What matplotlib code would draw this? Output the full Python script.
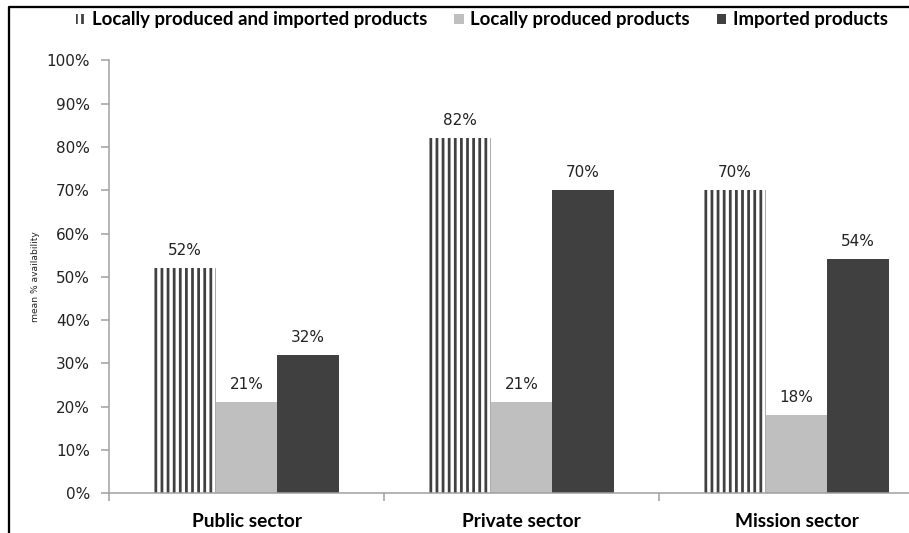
import numpy as np
import matplotlib
matplotlib.use("Agg")
import matplotlib.pyplot as plt
from matplotlib.lines import Line2D
from matplotlib.font_manager import FontProperties
from matplotlib.ticker import FixedLocator

# mean % availability by sector
sectors = ["Public sector", "Private sector", "Mission sector"]
series_names = ["Locally produced and imported products",
                "Locally produced products",
                "Imported products"]
both_vals = [52, 82, 70]
local_vals = [21, 21, 18]
imported_vals = [32, 70, 54]
yticks = [0, 10, 20, 30, 40, 50, 60, 70, 80, 90, 100]

DPI = 110
W, H = 909, 533
plt.rcParams["hatch.linewidth"] = 1.8
plt.rcParams["font.family"] = ["DejaVu Sans"]

dark = "#404040"
light = "#bfbfbf"
axis_grey = "#a0a0a0"
legend_font = FontProperties(family="Lato", weight="bold", size=12.2)
cat_font = FontProperties(family="Lato", weight="bold", size=12.5)

fig = plt.figure(figsize=(W / DPI, H / DPI), dpi=DPI)
# plot area runs past the right edge of the canvas
ax = fig.add_axes([109 / W, (H - 493.3) / H, 825 / W, 433 / H])

x = np.arange(len(sectors))
w = 0.224
b1 = ax.bar(x - w, both_vals, w, color="white", edgecolor=dark, hatch="|||", linewidth=0)
b2 = ax.bar(x, local_vals, w, color=light, linewidth=0)
b3 = ax.bar(x + w, imported_vals, w, color=dark, linewidth=0)

for bars, vals in [(b1, both_vals), (b2, local_vals), (b3, imported_vals)]:
    for b, v in zip(bars, vals):
        ax.annotate(f"{v}%", (b.get_x() + b.get_width() / 2, v),
                    xytext=(0, 8.5), textcoords="offset points",
                    ha="center", va="baseline", fontsize=10, color="#222222")

ax.set_xlim(-0.5, len(sectors) - 0.5)
ax.set_ylim(0, 100)
ax.set_yticks(yticks)
ax.set_yticklabels([f"{t}%" for t in yticks])
ax.set_xticks(x)
ax.set_xticklabels(sectors, fontproperties=cat_font)
ax.xaxis.set_minor_locator(FixedLocator(np.arange(len(sectors) + 1) - 0.5))

for side in ["top", "right"]:
    ax.spines[side].set_visible(False)
for side in ["left", "bottom"]:
    ax.spines[side].set_color(axis_grey)
    ax.spines[side].set_linewidth(1)

ax.tick_params(axis="y", direction="out", length=5.2, width=1, color=axis_grey,
               pad=7.2, labelsize=10, labelcolor="#222222")
ax.tick_params(axis="x", which="major", length=0, pad=13)
ax.tick_params(axis="x", which="minor", direction="out", length=5, width=1, color=axis_grey)

fig.text(36 / W, (H - 277) / H, "mean % availability", rotation=90,
         ha="center", va="center", fontsize=6, color="#222222")

fig.legend([b1, b2, b3], series_names, ncol=3, loc="center",
           bbox_to_anchor=(482 / W, 1 - 20 / H), frameon=False, prop=legend_font,
           handlelength=0.5, handleheight=0.5, handletextpad=0.35,
           columnspacing=1.45, borderpad=0)

# outer frame (left and top edges)
fig.add_artist(Line2D([8.5 / W, 8.5 / W, 1.0], [0.0, 1 - 7 / H, 1 - 7 / H],
                      transform=fig.transFigure, color="black", lw=1.5))

fig.savefig("out.png", dpi=DPI)
